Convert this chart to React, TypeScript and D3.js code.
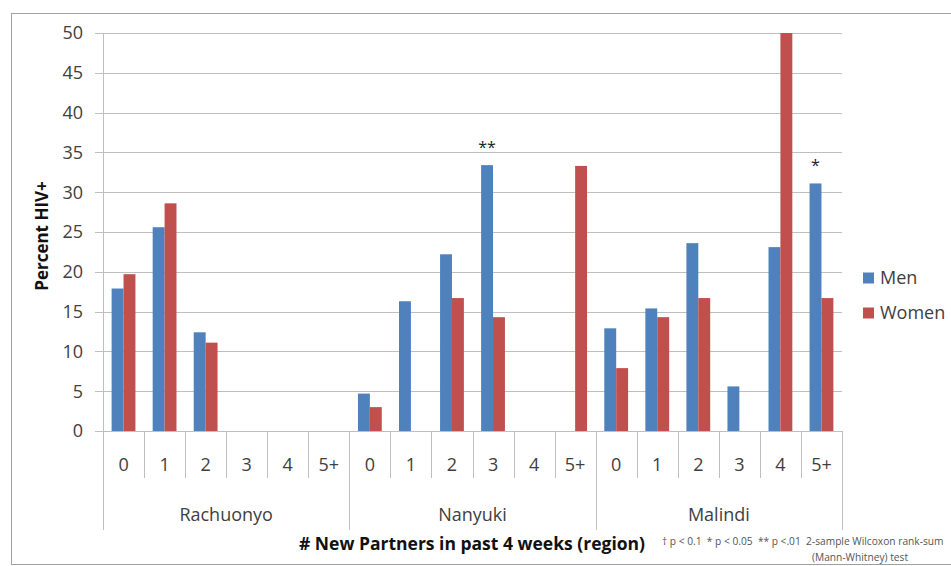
import React from "react";
import * as d3 from "d3";

const regions = ["Rachuonyo", "Nanyuki", "Malindi"];
const partnerCats = ["0", "1", "2", "3", "4", "5+"];
const menValues = [
  17.9, 25.6, 12.4, 0, 0, 0,
  4.7, 16.3, 22.2, 33.4, 0, 0,
  12.9, 15.4, 23.6, 5.6, 23.1, 31.1,
];
const womenValues = [
  19.7, 28.6, 11.1, 0, 0, 0,
  3.0, 0, 16.7, 14.3, 0, 33.3,
  7.9, 14.3, 16.7, 0, 50, 16.7,
];
const seriesNames = ["Men", "Women"];
const yTicks = [0, 5, 10, 15, 20, 25, 30, 35, 40, 45, 50];
const significance = [
  { index: 9, label: "**" },
  { index: 17, label: "*" },
];

const W = 951;
const H = 566;
const left = 103;
const right = 842;
const top = 33;
const bottom = 431;
const colors = ["#4F81BD", "#C0504D"];
const font = "'Open Sans', sans-serif";
const grid = "#BFBFBF";
const textColor = "#404040";

export default function App() {
  const keys = regions.flatMap((r) => partnerCats.map((c) => `${r}|${c}`));
  const x = d3.scaleBand<string>().domain(keys).range([left, right]);
  const y = d3.scaleLinear().domain([0, 50]).range([bottom, top]);
  const bw = x.bandwidth();
  const barW = bw * 0.29;
  const inner = d3.scaleBand<string>().domain(seriesNames).range([-barW, barW]);

  const series = [menValues, womenValues];

  return (
    <svg
      width={W}
      height={H}
      style={{ position: "absolute", left: 0, top: 0, background: "#fff" }}
      fontFamily={font}
    >
      <rect x={11.5} y={13.5} width={1000} height={551} fill="#fff" stroke="#A0A0A0" strokeWidth={1} />
      {/* gridlines + y ticks */}
      {yTicks.map((t) => (
        <g key={t}>
          <line x1={95} x2={right} y1={Math.round(y(t)) + 0.5} y2={Math.round(y(t)) + 0.5} stroke={grid} strokeWidth={1} />
          <text x={83} y={y(t)} dy="0.35em" textAnchor="end" fontSize={18} fill={textColor}>
            {t}
          </text>
        </g>
      ))}
      {/* y axis line */}
      <line x1={left + 0.5} x2={left + 0.5} y1={top} y2={530} stroke={grid} />
      {/* category separators */}
      {keys.map((k, i) => {
        const xx = Math.round((x(k) as number) + bw) + 0.5;
        const isRegionEnd = (i + 1) % partnerCats.length === 0;
        return (
          <line key={k} x1={xx} x2={xx} y1={bottom} y2={isRegionEnd ? 530 : 478} stroke={grid} />
        );
      })}
      {/* bars */}
      {series.map((vals, si) =>
        vals.map((v, i) => {
          const cx = (x(keys[i]) as number) + bw / 2;
          if (v <= 0) return null;
          return (
            <rect
              key={`${si}-${i}`}
              x={cx + (inner(seriesNames[si]) as number)}
              y={y(v)}
              width={inner.bandwidth()}
              height={bottom - y(v)}
              fill={colors[si]}
            />
          );
        })
      )}
      {/* category labels */}
      {keys.map((k) => (
        <text key={k} x={(x(k) as number) + bw / 2} y={465} dy="0.35em" textAnchor="middle" fontSize={18} fill={textColor}>
          {k.split("|")[1]}
        </text>
      ))}
      {/* region labels */}
      {regions.map((r) => {
        const x0 = x(`${r}|${partnerCats[0]}`) as number;
        const x1 = (x(`${r}|${partnerCats[partnerCats.length - 1]}`) as number) + bw;
        return (
          <text key={r} x={(x0 + x1) / 2} y={515} dy="0.35em" textAnchor="middle" fontSize={18} fill={textColor}>
            {r}
          </text>
        );
      })}
      {/* significance */}
      {significance.map((s) => {
        const cx = (x(keys[s.index]) as number) + bw / 2 + (inner("Men") as number) + inner.bandwidth() / 2;
        return (
          <text key={s.index} x={cx} y={y(menValues[s.index]) - 18} dy="0.35em" textAnchor="middle" fontSize={16} fill="#222">
            {s.label}
          </text>
        );
      })}
      {/* y title */}
      <text
        transform={`translate(42,236) rotate(-90)`}
        textAnchor="middle"
        dy="0.35em"
        fontSize={17}
        fontWeight="bold"
        fill="#111"
      >
        Percent HIV+
      </text>
      {/* x title */}
      <text x={472} y={544} dy="0.35em" textAnchor="middle" fontSize={17.5} fontWeight="bold" fill="#111">
        # New Partners in past 4 weeks (region)
      </text>
      {/* footnote */}
      <text x={662} y={541} dy="0.35em" fontSize={10.2} fill="#555">
        † p &lt; 0.1{"\u00a0\u00a0"}* p &lt; 0.05{"\u00a0\u00a0"}** p &lt;.01{"\u00a0\u00a0"}2-sample Wilcoxon rank-sum
      </text>
      <text x={812} y={557} dy="0.35em" fontSize={10.2} fill="#555">
        (Mann-Whitney) test
      </text>
      {/* legend */}
      {seriesNames.map((n, i) => (
        <g key={n} transform={`translate(863,${278 + i * 35})`}>
          <rect x={0} y={-5.5} width={11} height={11} fill={colors[i]} />
          <text x={17} y={0} dy="0.35em" fontSize={18} fill={textColor}>
            {n}
          </text>
        </g>
      ))}
    </svg>
  );
}
